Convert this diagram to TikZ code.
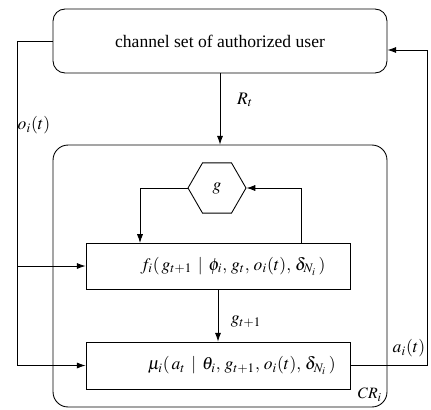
\documentclass[tikz,border=0pt]{standalone}
\usepackage{mathptmx}
\usepackage[no-math]{fontspec}
\setmainfont{Liberation Serif}
\usetikzlibrary{arrows.meta,shapes.geometric}

\tikzset{
  >={Latex[length=5pt,width=3.5pt]},
  roundbox/.style={draw, rounded corners=0.24cm, inner sep=0pt},
  funcbox/.style={draw, minimum width=5.28cm, minimum height=0.92cm, inner sep=0pt},
  hexnode/.style={draw, regular polygon, regular polygon sides=6, minimum size=1.16cm, inner sep=0pt}
}

\begin{document}
\begin{tikzpicture}[x=0.02cm, y=-0.02cm, line width=0.5pt]
  \useasboundingbox (0,0) rectangle (431,409);
  % blocks
  \node[roundbox, minimum width=6.68cm, minimum height=1.28cm] (chan) at (220,41) {channel set of authorized user};
  \node[roundbox, rounded corners=0.3cm, minimum width=6.68cm, minimum height=5.24cm] (cr) at (220,276) {};
  \node[hexnode] (hex) at (217,188) {$g$};
  \node[funcbox] (f) at (218,266) {\hspace*{0.6cm}$f_i(\,g_{t+1}\,\mid\,\phi_i,\,g_t,\,o_i(t),\,\delta_{N_i}\,)$};
  \node[funcbox, minimum height=0.94cm] (mu) at (218,365.5) {\hspace*{0.95cm}$\mu_i(\,a_t\,\mid\,\theta_i,\,g_{t+1},\,o_i(t),\,\delta_{N_i}\,)$};

  % bends
  \coordinate (oleft) at (17,41);
  \coordinate (aright) at (427,365.5);
  \coordinate (fin) at (140,243);
  \coordinate (fout) at (301,243);

  % connectors
  \draw[->] (chan.south) -- (cr.north);
  \draw[->] (chan.west) -- (oleft) |- (mu.west);
  \draw[->] (oleft |- f.west) -- (f.west);
  \draw[->] (hex.west) -| (fin);
  \draw[->] (fout) |- (hex.east);
  \draw[->] (f.south) -- (mu.north);
  \draw[->] (mu.east) -- (aright) |- ([yshift=-0.18cm]chan.east);

  % labels
  \node (rlab) at (245,100) {$R_t$};
  \node (olab) at (34,125) {$o_i(t)$};
  \node (glab) at (246,322) {$g_{t+1}$};
  \node (alab) at (409,348) {$a_i(t)$};
  \node[font=\small] (crlab) at (370,395) {$CR_i$};
\end{tikzpicture}
\end{document}
